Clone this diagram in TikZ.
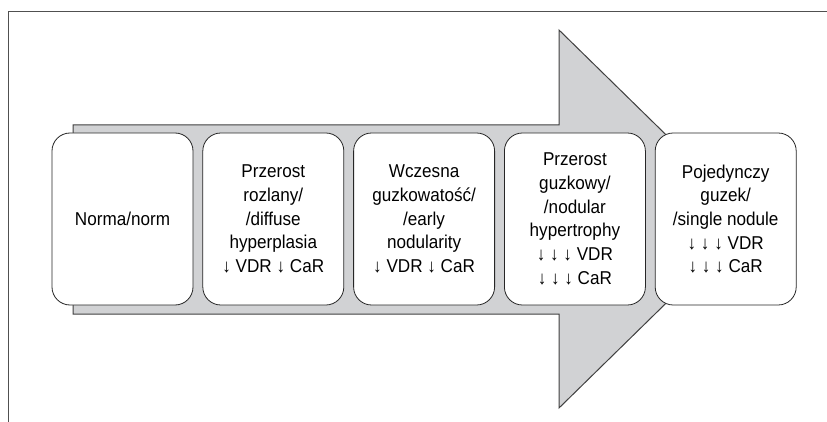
\documentclass[tikz,border=0pt]{standalone}
\usepackage{fontspec}
\setmainfont{Liberation Sans}[FakeStretch=0.92]
\usetikzlibrary{positioning}
\definecolor{arrowgray}{RGB}{209,210,212}
\definecolor{framegray}{RGB}{80,80,80}

\begin{document}
\begin{tikzpicture}[
  x=1pt, y=-1pt,
  node distance=9pt,
  stage/.style={rectangle, rounded corners=18pt, draw=black!85, line width=0.8pt, fill=white,
                minimum width=141pt, minimum height=172pt, inner sep=0pt, align=center,
                font=\fontsize{18.6}{23.7}\selectfont},
  bigarrow/.style={draw=black!75, line width=1pt, fill=arrowgray, line join=miter}
]
\useasboundingbox (0,0) rectangle (827,422);
% open frame
\draw[framegray, line width=0.9pt] (8,422) -- (8,11) -- (827,11);
% arrow behind the stages
\draw[bigarrow] (73,125) -- (559,125) -- (559,30) -- (752,219) -- (559,408) -- (559,314) -- (73,314) -- cycle;

\node[stage] (norm) at (122.5,219) {Norma/norm};
\node[stage, right=of norm] (diffuse) {Przerost\\rozlany/\\/diffuse\\hyperplasia\\↓ VDR ↓ CaR};
\node[stage, right=of diffuse] (early) {Wczesna\\guzkowatość/\\/early\\nodularity\\↓ VDR ↓ CaR};
\node[stage, right=of early] (nodular) {Przerost\\guzkowy/\\/nodular\\hypertrophy\\↓ ↓ ↓ VDR\\↓ ↓ ↓ CaR};
\node[stage, right=of nodular] (single) {Pojedynczy\\guzek/\\/single nodule\\↓ ↓ ↓ VDR\\↓ ↓ ↓ CaR};
\end{tikzpicture}
\end{document}
